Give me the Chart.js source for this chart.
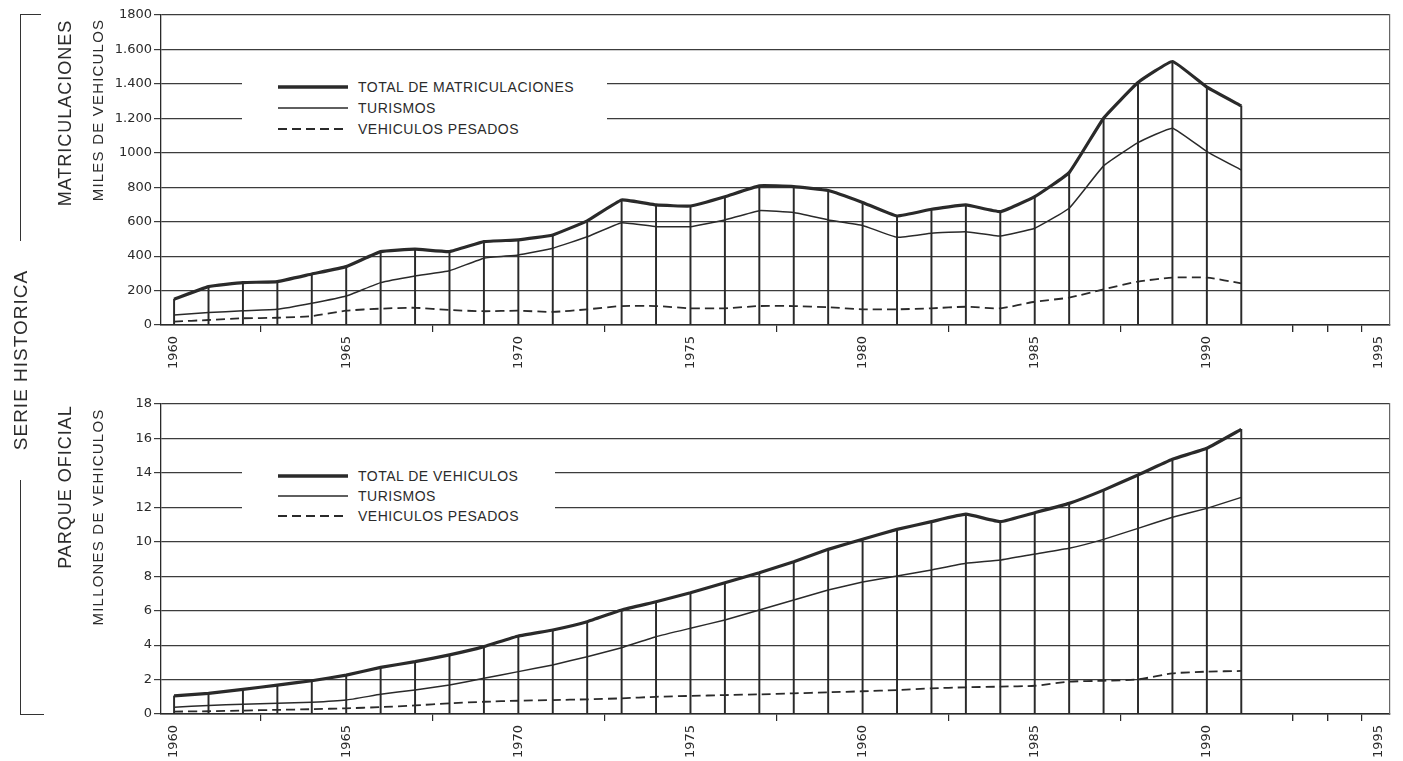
<!DOCTYPE html>
<html>
<head>
<meta charset="utf-8">
<title>Serie historica</title>
<script src="https://cdn.jsdelivr.net/npm/chart.js@4.4.1/dist/chart.umd.min.js"></script>
<style>
body { margin: 0; background: #fff; }
#page { position: relative; width: 1403px; height: 761px; overflow: hidden;
        font-family: "Liberation Sans", Arial, sans-serif; color: #2b2b2b; }
canvas { position: absolute; left: 0; }
.vlabel { position: absolute; white-space: nowrap; transform: translate(-50%, -50%) rotate(-90deg); }
.legend { position: absolute; background: #fff; }
.legend .item { position: absolute; left: 0; width: 100%; height: 0; }
.legend svg { position: absolute; left: 36px; top: -5px; }
.legend span { position: absolute; left: 116px; top: -9px; font-size: 14px; letter-spacing: 0.5px; line-height: 18px; white-space: nowrap; }
.bracket { position: absolute; border-color: #333; border-style: solid; border-width: 0; }
</style>
</head>
<body>
<div id="page">
  <canvas id="chartMat" width="1403" height="380" style="top:0px"></canvas>
  <canvas id="chartPar" width="1403" height="381" style="top:380px"></canvas>

  <div class="legend" id="legMat" style="left:242px;top:66px;width:365px;height:76px;"></div>
  <div class="legend" id="legPar" style="left:242px;top:455px;width:313px;height:72px;"></div>

  <div class="bracket" style="left:20px;top:14px;width:20px;height:226px;border-left-width:1.5px;border-top-width:1.5px;"></div>
  <div class="bracket" style="left:20px;top:480px;width:23px;height:234px;border-left-width:1.5px;border-bottom-width:1.5px;"></div>

  <div class="vlabel" style="left:21px;top:360px;font-size:19px;letter-spacing:1px;">SERIE HISTORICA</div>
  <div class="vlabel" style="left:65px;top:113px;font-size:18px;letter-spacing:1px;">MATRICULACIONES</div>
  <div class="vlabel" style="left:97px;top:110px;font-size:15px;letter-spacing:1.2px;">MILES DE VEHICULOS</div>
  <div class="vlabel" style="left:65px;top:487px;font-size:18px;letter-spacing:1px;">PARQUE OFICIAL</div>
  <div class="vlabel" style="left:97px;top:517px;font-size:15px;letter-spacing:1.2px;">MILLONES DE VEHICULOS</div>
</div>

<script>
var years = [1960, 1961, 1962, 1963, 1964, 1965, 1966, 1967, 1968, 1969,
             1970, 1971, 1972, 1973, 1974, 1975, 1976, 1977, 1978, 1979,
             1980, 1981, 1982, 1983, 1984, 1985, 1986, 1987, 1988, 1989,
             1990, 1991];

// matriculaciones, miles de vehiculos
var matTotal = [150, 223, 246, 252, 296, 339, 426, 440, 426, 484,
                494, 523, 605, 726, 697, 691, 745, 808, 804, 781,
                712, 633, 672, 697, 658, 745, 885, 1201, 1408, 1530,
                1381, 1272];
var matTurismos = [58, 72, 83, 91, 126, 168, 246, 285, 315, 388,
                   407, 446, 512, 594, 571, 571, 610, 664, 653, 610,
                   578, 509, 533, 542, 517, 562, 678, 924, 1059, 1143,
                   1007, 900];
var matPesados = [20, 29, 39, 42, 52, 83, 95, 100, 87, 80,
                  83, 76, 91, 110, 110, 97, 97, 110, 110, 103,
                  91, 91, 97, 106, 97, 135, 159, 207, 252, 275,
                  275, 242];

// parque oficial, millones de vehiculos
var parTotal = [1.05, 1.2, 1.43, 1.68, 1.93, 2.26, 2.71, 3.04, 3.43, 3.91,
                4.53, 4.88, 5.36, 6.04, 6.52, 7.04, 7.62, 8.2, 8.84, 9.56,
                10.15, 10.72, 11.17, 11.6, 11.17, 11.69, 12.23, 13.0, 13.88, 14.79,
                15.43, 16.53];
var parTurismos = [0.39, 0.5, 0.56, 0.62, 0.68, 0.81, 1.14, 1.4, 1.68, 2.07,
                   2.46, 2.85, 3.33, 3.85, 4.49, 4.98, 5.46, 6.04, 6.62, 7.2,
                   7.66, 8.01, 8.36, 8.75, 8.94, 9.29, 9.62, 10.14, 10.78, 11.42,
                   11.94, 12.58];
var parPesados = [0.14, 0.16, 0.2, 0.24, 0.28, 0.33, 0.4, 0.5, 0.62, 0.71,
                  0.77, 0.81, 0.85, 0.91, 1.0, 1.05, 1.1, 1.14, 1.2, 1.26,
                  1.32, 1.39, 1.49, 1.55, 1.59, 1.64, 1.88, 1.93, 2.01, 2.36,
                  2.46, 2.5];

var xTickYears = [1960, 1965, 1970, 1975, 1980, 1985, 1990, 1995];
var xMinorYears = [1992, 1993, 1994];
var matXLabels = ["1960", "1965", "1970", "1975", "1980", "1985", "1990", "1995"];
var parXLabels = ["1960", "1965", "1970", "1975", "1960", "1985", "1990", "1995"];

var matYTicks = [0, 200, 400, 600, 800, 1000, 1200, 1400, 1600, 1800];
var matYLabels = ["0", "200", "400", "600", "800", "1000", "1.200", "1.400", "1.600", "1800"];
var parYTicks = [0, 2, 4, 6, 8, 10, 12, 14, 16, 18];
var parYLabels = ["0", "2", "4", "6", "8", "10", "12", "14", "16", "18"];

var matLegend = ["TOTAL DE MATRICULACIONES", "TURISMOS", "VEHICULOS PESADOS"];
var parLegend = ["TOTAL DE VEHICULOS", "TURISMOS", "VEHICULOS PESADOS"];

var INK = "#2a2a2a";
var GRID = "#3c3c3c";
var tickFont = { family: "DejaVu Sans", size: 13 };

function pts(vals) {
    return years.map(function (yr, i) { return { x: yr, y: vals[i] }; });
}

function buildChart(id, cfg) {
    var ctx = document.getElementById(id).getContext("2d");
    return new Chart(ctx, {
        type: "line",
        data: {
            datasets: [
                { type: "bar", data: pts(cfg.total), backgroundColor: INK, barThickness: 1.3, order: 10 },
                { data: pts(cfg.total), borderColor: INK, borderWidth: 3.2, pointRadius: 0, tension: 0.1, order: 1 },
                { data: pts(cfg.tur), borderColor: INK, borderWidth: 1.5, pointRadius: 0, tension: 0.1, order: 2 },
                { data: pts(cfg.pes), borderColor: INK, borderWidth: 1.8, borderDash: [9, 5], pointRadius: 0, tension: 0.2, order: 3 }
            ]
        },
        options: {
            responsive: false,
            animation: false,
            events: [],
            layout: { padding: { top: cfg.padTop, right: 13, left: 0, bottom: 0 } },
            plugins: { legend: { display: false }, tooltip: { enabled: false } },
            scales: {
                x: {
                    type: "linear", min: 1959.62, max: 1995.32, offset: false,
                    afterBuildTicks: function (s) {
                        s.ticks = xTickYears.concat(xMinorYears).map(function (v) { return { value: v }; });
                    },
                    afterFit: function (s) { s.height = cfg.xHeight; },
                    grid: { display: true, drawOnChartArea: false, drawTicks: true, tickLength: 7, color: INK, lineWidth: 1.2 },
                    border: { display: true, color: INK, width: 1.5 },
                    ticks: {
                        autoSkip: false, maxRotation: 90, minRotation: 90, padding: 4,
                        color: INK, font: tickFont,
                        callback: function (v) {
                            var i = xTickYears.indexOf(v);
                            return i < 0 ? "" : cfg.xLabels[i];
                        }
                    }
                },
                y: {
                    min: 0, max: cfg.yMax,
                    afterBuildTicks: function (s) {
                        s.ticks = cfg.yTicks.map(function (v) { return { value: v }; });
                    },
                    afterFit: function (s) { s.width = 161; },
                    grid: { color: GRID, lineWidth: 1.2, tickLength: 7 },
                    border: { display: true, color: INK, width: 1.3 },
                    ticks: {
                        padding: 2, color: INK, font: tickFont,
                        callback: function (v) { return cfg.yLabels[cfg.yTicks.indexOf(v)]; }
                    }
                },
                y2: {
                    position: "right", display: true,
                    grid: { display: false },
                    ticks: { display: false },
                    border: { display: true, color: "#666", width: 1.2 },
                    afterFit: function (s) { s.width = 0; }
                }
            }
        }
    });
}

function buildLegend(id, labels) {
    var box = document.getElementById(id);
    var rowY = [21, 42, 63];
    if (id === "legPar") rowY = [21, 41, 61];
    var widths = [3.5, 1.6, 2];
    var dashes = ["", "", "9 5"];
    labels.forEach(function (txt, i) {
        var item = document.createElement("div");
        item.className = "item";
        item.style.top = rowY[i] + "px";
        item.innerHTML = '<svg width="70" height="10"><line x1="0" y1="5" x2="70" y2="5" stroke="' + INK +
            '" stroke-width="' + widths[i] + '"' + (dashes[i] ? ' stroke-dasharray="' + dashes[i] + '"' : '') +
            '/></svg><span>' + txt + '</span>';
        box.appendChild(item);
    });
}

buildChart("chartMat", {
    total: matTotal, tur: matTurismos, pes: matPesados,
    yMax: 1800, yTicks: matYTicks, yLabels: matYLabels, xLabels: matXLabels,
    padTop: 15, xHeight: 55
});
buildChart("chartPar", {
    total: parTotal, tur: parTurismos, pes: parPesados,
    yMax: 18, yTicks: parYTicks, yLabels: parYLabels, xLabels: parXLabels,
    padTop: 24, xHeight: 47
});
buildLegend("legMat", matLegend);
buildLegend("legPar", parLegend);
</script>
</body>
</html>
